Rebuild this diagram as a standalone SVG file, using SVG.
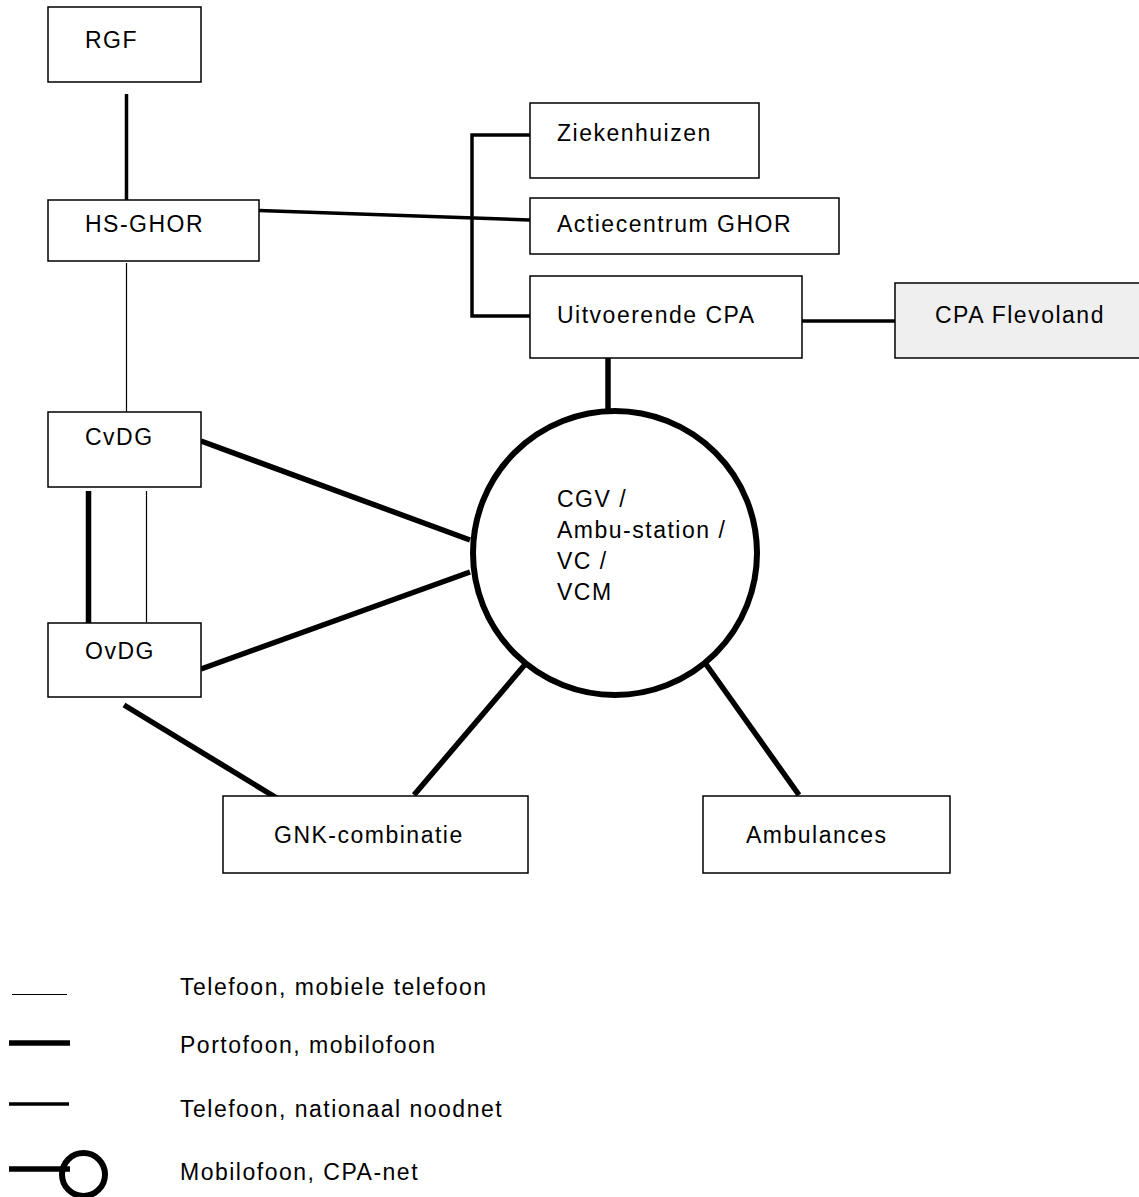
<svg xmlns="http://www.w3.org/2000/svg" width="1139" height="1197" viewBox="0 0 1139 1197">
<style>
.box{fill:#fff;stroke:#000;stroke-width:1.5}
.gray{fill:#efefef}
.t{font-family:"Liberation Sans",Arial,sans-serif;font-size:23px;letter-spacing:1.5px;fill:#000}
.thin{stroke:#000;stroke-width:1.2;fill:none}
.med{stroke:#000;stroke-width:3.5;fill:none}
.thick{stroke:#000;stroke-width:5.5;fill:none}
</style>
<rect width="1139" height="1197" fill="#fff"/>
<g id="connectors">
<line class="med" x1="126.5" y1="94" x2="126.5" y2="210"/>
<line class="med" x1="259" y1="210.5" x2="530" y2="220"/>
<line class="thin" x1="126.5" y1="263" x2="126.5" y2="412"/>
<polyline class="med" points="530,135 472,135 472,316 530,316"/>
<line class="med" x1="802" y1="321" x2="895" y2="321"/>
<line class="thick" x1="608" y1="358" x2="608" y2="412"/>
<line class="thick" x1="88.5" y1="491" x2="88.5" y2="628"/>
<line class="thin" x1="146.5" y1="491" x2="146.5" y2="622"/>
<line class="thick" x1="201" y1="441" x2="470" y2="540"/>
<line class="thick" x1="201" y1="669" x2="470" y2="572"/>
<line class="thick" x1="124" y1="705" x2="280" y2="800"/>
<line class="thick" x1="414" y1="795" x2="528" y2="661"/>
<line class="thick" x1="799" y1="795" x2="703" y2="660"/>
</g>
<g id="RGF"><rect class="box" x="48" y="7" width="153" height="75"/><text class="t" x="85" y="48">RGF</text></g>
<g id="HS-GHOR"><rect class="box" x="48" y="200" width="211" height="61"/><text class="t" x="85" y="232">HS-GHOR</text></g>
<g id="CvDG"><rect class="box" x="48" y="412" width="153" height="75"/><text class="t" x="85" y="445">CvDG</text></g>
<g id="OvDG"><rect class="box" x="48" y="623" width="153" height="74"/><text class="t" x="85" y="659">OvDG</text></g>
<g id="Ziekenhuizen"><rect class="box" x="530" y="103" width="229" height="75"/><text class="t" x="557" y="141">Ziekenhuizen</text></g>
<g id="Actiecentrum"><rect class="box" x="530" y="198" width="309" height="56"/><text class="t" x="557" y="232">Actiecentrum GHOR</text></g>
<g id="UitvoerendeCPA"><rect class="box" x="530" y="276" width="272" height="82"/><text class="t" x="557" y="323">Uitvoerende CPA</text></g>
<g id="CPAFlevoland"><rect class="box gray" x="895" y="283" width="250" height="75"/><text class="t" x="935" y="323">CPA Flevoland</text></g>
<g id="CGV"><circle cx="615" cy="553" r="142" fill="#fff" stroke="#000" stroke-width="6"/>
<text class="t" x="557" y="507">CGV /</text>
<text class="t" x="557" y="538">Ambu-station /</text>
<text class="t" x="557" y="569">VC /</text>
<text class="t" x="557" y="600">VCM</text></g>
<g id="GNK"><rect class="box" x="223" y="796" width="305" height="77"/><text class="t" x="274" y="843">GNK-combinatie</text></g>
<g id="Ambulances"><rect class="box" x="703" y="796" width="247" height="77"/><text class="t" x="746" y="843">Ambulances</text></g>
<g id="legend">
<line class="thin" x1="12" y1="994.5" x2="67" y2="994.5"/>
<line class="thick" x1="9" y1="1043" x2="70" y2="1043"/>
<line class="med" x1="9" y1="1104" x2="69" y2="1104"/>
<line class="thick" x1="9" y1="1169" x2="70" y2="1169"/>
<circle cx="83.5" cy="1174.5" r="21.5" fill="none" stroke="#000" stroke-width="6"/>
<text class="t" x="180" y="995">Telefoon, mobiele telefoon</text>
<text class="t" x="180" y="1053">Portofoon, mobilofoon</text>
<text class="t" x="180" y="1117">Telefoon, nationaal noodnet</text>
<text class="t" x="180" y="1180">Mobilofoon, CPA-net</text>
</g>
</svg>
